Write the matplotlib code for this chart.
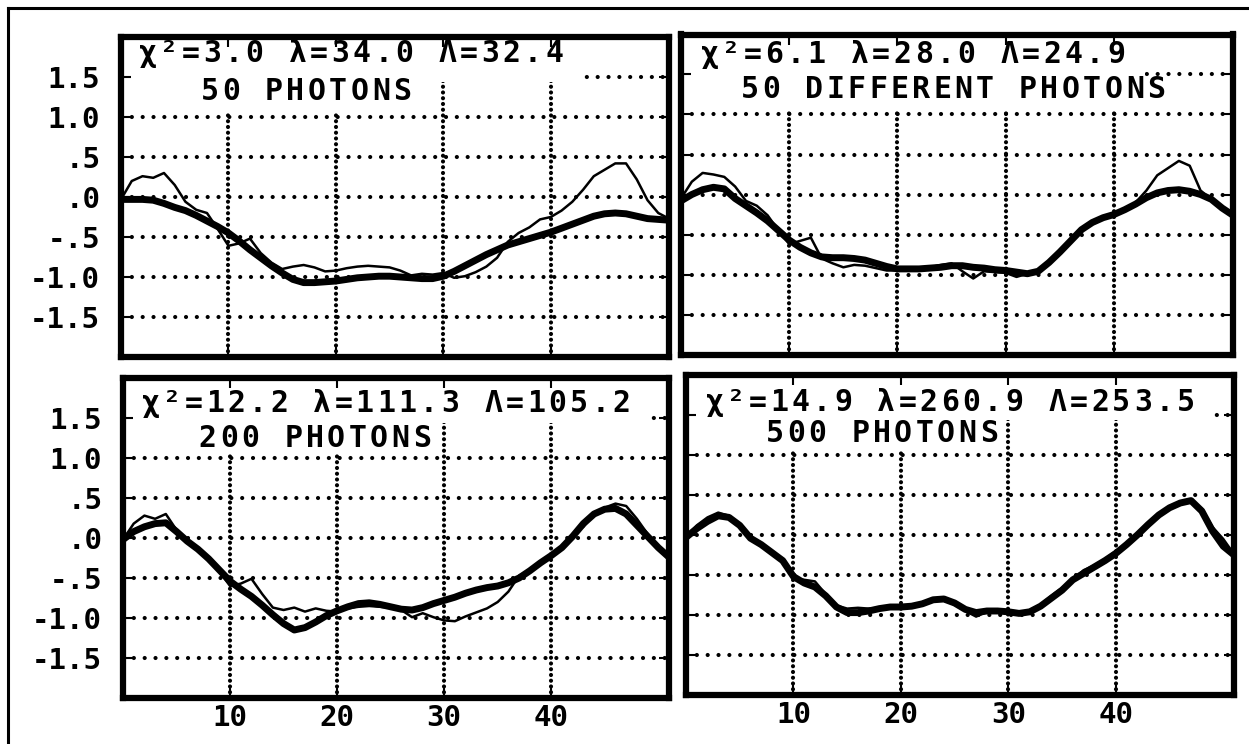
import numpy as np
import matplotlib
matplotlib.use('Agg')
import matplotlib.pyplot as plt
from matplotlib.patches import Rectangle
from matplotlib.lines import Line2D
from matplotlib.transforms import offset_copy

W, H, DPI = 1249, 744, 100
FONT = 'DejaVu Sans Mono'

# channel index along the x axis
x = np.arange(0, 52)

# 50 photons: smooth fit and raw data
fit_50 = [-0.03, -0.03, -0.03, -0.04, -0.08, -0.13, -0.17, -0.23, -0.30, -0.37,
          -0.45, -0.55, -0.66, -0.76, -0.86, -0.95, -1.03, -1.07, -1.07, -1.06,
          -1.05, -1.03, -1.01, -1.00, -0.99, -0.99, -1.00, -1.01, -1.02, -1.02,
          -0.99, -0.93, -0.86, -0.79, -0.72, -0.66, -0.60, -0.56, -0.52, -0.48,
          -0.44, -0.39, -0.34, -0.29, -0.24, -0.21, -0.20, -0.21, -0.24, -0.27,
          -0.28, -0.29]
data_50 = [-0.03, 0.20, 0.26, 0.24, 0.30, 0.15, -0.06, -0.16, -0.20, -0.40,
           -0.61, -0.58, -0.52, -0.70, -0.82, -0.90, -0.87, -0.85, -0.88, -0.93,
           -0.92, -0.89, -0.87, -0.86, -0.87, -0.88, -0.92, -0.98, -0.96, -0.97,
           -0.95, -1.01, -0.99, -0.94, -0.87, -0.76, -0.56, -0.45, -0.38, -0.28,
           -0.25, -0.17, -0.06, 0.09, 0.26, 0.34, 0.42, 0.42, 0.22, -0.04,
           -0.20, -0.27]

# 50 different photons
fit_50b = [-0.08, 0.00, 0.06, 0.09, 0.07, -0.05, -0.14, -0.23, -0.33, -0.45,
           -0.57, -0.66, -0.73, -0.78, -0.79, -0.79, -0.80, -0.82, -0.86, -0.90,
           -0.93, -0.93, -0.93, -0.92, -0.91, -0.89, -0.89, -0.91, -0.92, -0.94,
           -0.95, -0.97, -0.99, -0.96, -0.85, -0.72, -0.58, -0.44, -0.35, -0.29,
           -0.25, -0.19, -0.12, -0.04, 0.02, 0.05, 0.06, 0.04, 0.00, -0.06,
           -0.17, -0.26]
data_50b = [-0.05, 0.16, 0.27, 0.25, 0.22, 0.10, -0.08, -0.14, -0.26, -0.45,
            -0.62, -0.58, -0.54, -0.80, -0.86, -0.91, -0.88, -0.89, -0.92, -0.95,
            -0.95, -0.93, -0.94, -0.91, -0.88, -0.86, -0.96, -1.05, -0.96, -0.97,
            -0.98, -1.03, -0.99, -0.95, -0.87, -0.72, -0.56, -0.45, -0.36, -0.28,
            -0.23, -0.19, -0.10, 0.05, 0.24, 0.33, 0.42, 0.36, 0.05, -0.06,
            -0.17, -0.26]

# 200 photons
fit_200 = [-0.02, 0.08, 0.14, 0.18, 0.19, 0.08, -0.04, -0.14, -0.26, -0.40,
           -0.54, -0.64, -0.73, -0.84, -0.96, -1.07, -1.15, -1.12, -1.05, -0.97,
           -0.91, -0.86, -0.82, -0.81, -0.83, -0.86, -0.89, -0.90, -0.87, -0.82,
           -0.78, -0.74, -0.69, -0.65, -0.62, -0.60, -0.56, -0.50, -0.41, -0.31,
           -0.22, -0.12, 0.02, 0.18, 0.30, 0.36, 0.37, 0.30, 0.16, 0.02,
           -0.12, -0.24]
data_200 = [-0.02, 0.18, 0.28, 0.24, 0.30, 0.10, -0.05, -0.15, -0.27, -0.42,
            -0.60, -0.57, -0.51, -0.70, -0.87, -0.90, -0.87, -0.92, -0.88, -0.91,
            -0.92, -0.88, -0.86, -0.85, -0.86, -0.87, -0.90, -0.99, -0.94, -0.99,
            -1.03, -1.04, -0.98, -0.93, -0.88, -0.80, -0.67, -0.47, -0.40, -0.30,
            -0.24, -0.13, 0.04, 0.14, 0.30, 0.38, 0.43, 0.40, 0.24, 0.05,
            -0.12, -0.24]

# 500 photons
fit_500 = [-0.03, 0.08, 0.17, 0.24, 0.22, 0.12, -0.04, -0.12, -0.22, -0.32,
           -0.52, -0.60, -0.65, -0.76, -0.90, -0.97, -0.97, -0.95, -0.92, -0.90,
           -0.90, -0.89, -0.86, -0.81, -0.80, -0.85, -0.93, -0.97, -0.95, -0.95,
           -0.96, -0.98, -0.96, -0.89, -0.79, -0.69, -0.56, -0.48, -0.40, -0.32,
           -0.23, -0.12, 0.00, 0.13, 0.25, 0.34, 0.40, 0.43, 0.30, 0.05,
           -0.14, -0.25]
data_500 = [-0.03, 0.12, 0.22, 0.28, 0.24, 0.12, -0.03, -0.13, -0.21, -0.34,
            -0.55, -0.56, -0.58, -0.74, -0.88, -0.92, -0.91, -0.92, -0.91, -0.90,
            -0.91, -0.88, -0.84, -0.81, -0.82, -0.87, -0.95, -1.02, -0.96, -0.94,
            -0.97, -0.99, -0.94, -0.87, -0.76, -0.66, -0.56, -0.44, -0.38, -0.30,
            -0.20, -0.13, 0.02, 0.12, 0.24, 0.33, 0.38, 0.42, 0.33, 0.10,
            -0.05, -0.24]

fits = [fit_50, fit_50b, fit_200, fit_500]
datas = [data_50, data_50b, data_200, data_500]
line1 = ["χ²=3.0 λ=34.0 Λ=32.4", "χ²=6.1 λ=28.0 Λ=24.9",
         "χ²=12.2 λ=111.3 Λ=105.2", "χ²=14.9 λ=260.9 Λ=253.5"]
line2 = ["50 PHOTONS", "50 DIFFERENT PHOTONS", "200 PHOTONS", "500 PHOTONS"]

y_ticks = [-1.5, -1.0, -0.5, 0.0, 0.5, 1.0, 1.5]
y_tick_labels = ['-1.5', '-1.0', '-.5', '.0', '.5', '1.0', '1.5']
x_ticks = [10, 20, 30, 40]

# panel boxes in pixels: left, top, right, bottom
boxes = [(121, 37, 669, 357), (681, 34.5, 1233, 354.5),
         (123, 378, 669, 698), (686, 375, 1234, 695)]
# text placement (pixels from upper-left corner): line1 dx, dy, line2 dx, dy
text_pos = [(16, 25, 78, 63), (18, 28.5, 58, 63.5),
            (17, 34, 74, 69), (18, 36, 78, 67)]
PITCH = 21.4


def lettered(ax, dx, dy, s):
    # fixed-pitch lettering, one glyph per cell
    for i, ch in enumerate(s):
        tr = offset_copy(ax.transAxes, fig=ax.figure,
                         x=dx + (i + 0.5) * PITCH, y=-dy, units='dots')
        ax.text(0, 1, ch, transform=tr, ha='center', va='baseline',
                fontsize=21.5, fontweight='bold', family=FONT, zorder=3)


fig = plt.figure(figsize=(W / DPI, H / DPI), dpi=DPI)

# frame around the page (top and left edges)
fig.add_artist(Line2D([8 / W, 1], [1 - 8 / H, 1 - 8 / H], color='black', lw=2.2))
fig.add_artist(Line2D([8 / W, 8 / W], [0, 1 - 8 / H], color='black', lw=2.2))

for k in range(4):
    l, t, r, b = boxes[k]
    aw, ah = r - l, b - t
    ax = fig.add_axes([l / W, 1 - b / H, aw / W, ah / H])
    ax.set_xlim(0, 51)
    ax.set_ylim(-2.0, 2.0)

    # dotted grid, round dots
    for v in x_ticks:
        ax.axvline(v, color='black', lw=3.0, linestyle=(0, (0.01, 1.37)),
                   dash_capstyle='round', zorder=1)
    for h in y_ticks:
        ax.axhline(h, color='black', lw=3.0, linestyle=(0, (0.01, 2.59)),
                   dash_capstyle='round', zorder=1)

    ax.plot(x, datas[k], color='black', lw=1.8, zorder=2)
    ax.plot(x, fits[k], color='black', lw=5, solid_joinstyle='round',
            solid_capstyle='round', zorder=2.1)

    # white cards behind the two header lines
    d1x, d1y, d2x, d2y = text_pos[k]
    end1 = min(d1x + len(line1[k]) * PITCH + 18, aw)
    ax.add_patch(Rectangle((0, 1 - 45 / ah), end1 / aw, 45 / ah, transform=ax.transAxes,
                           facecolor='white', edgecolor='none', zorder=1.6))
    end2 = d2x + len(line2[k]) * PITCH + 3
    ax.add_patch(Rectangle(((d2x - 5) / aw, 1 - 76 / ah), (end2 - d2x + 5) / aw, 32 / ah,
                           transform=ax.transAxes, facecolor='white', edgecolor='none',
                           zorder=1.6))
    lettered(ax, d1x, d1y, line1[k])
    lettered(ax, d2x, d2y, line2[k])

    for s in ax.spines.values():
        s.set_linewidth(4.5)
        s.set_zorder(2.5)
    ax.set_axisbelow(False)
    ax.set_yticks(y_ticks)
    ax.set_xticks(x_ticks)
    ax.tick_params(direction='in', length=7, width=1.5, top=True, right=True,
                   labelsize=21, pad=15)
    ax.tick_params(axis='x', pad=4)
    if k in (0, 2):
        ax.set_yticklabels(y_tick_labels, family=FONT, fontweight='bold')
    else:
        ax.set_yticklabels([])
    if k in (2, 3):
        ax.set_xticklabels([str(v) for v in x_ticks], family=FONT, fontweight='bold')
    else:
        ax.set_xticklabels([])

fig.savefig('out.png', dpi=DPI)
